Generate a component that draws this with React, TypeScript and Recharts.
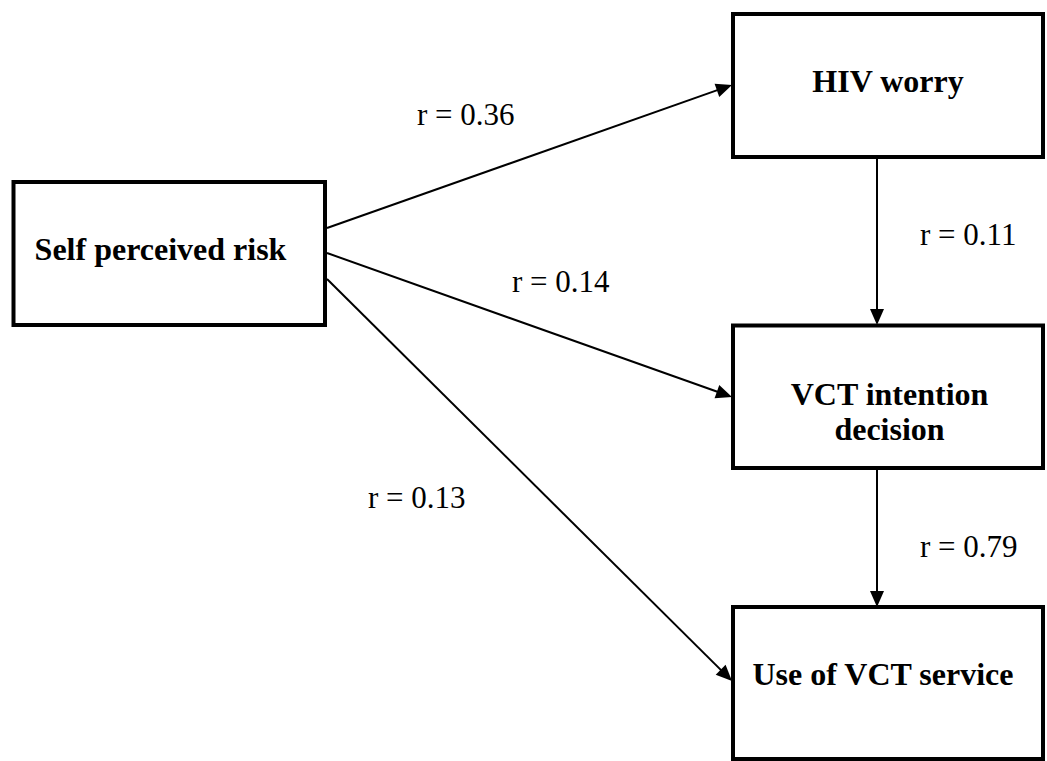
import React from 'react';
import { ComposedChart, XAxis, YAxis, ReferenceArea, ReferenceLine, ReferenceDot } from 'recharts';

const W = 1047;
const H = 761;

// Nodes (diagram coordinates)
const nodeLabels: string[][] = [['Self perceived risk'], ['HIV worry'], ['VCT intention', 'decision'], ['Use of VCT service']];
const nodeX1 = [13.5, 733, 733, 733];
const nodeX2 = [325, 1043, 1043, 1043];
const nodeY1 = [182, 14, 325.5, 607];
const nodeY2 = [325, 157, 468, 759];
const labelX = [160.5, 888, 889.5, 883];
const labelY = [260, 92, 405, 685];

// Edges (correlations)
const edgeR = ['0.36', '0.14', '0.13', '0.11', '0.79'];
const edgeFromX = [327, 327, 327, 877, 877];
const edgeFromY = [228, 253, 279, 157, 468];
const edgeToX = [732, 732, 732, 877, 877];
const edgeToY = [85, 397, 681, 325, 607];
const rLabelX = [417, 512, 368, 920, 920];
const rLabelY = [125, 292, 508, 245, 557];

const FONT = '"Liberation Serif", "Times New Roman", Times, serif';

const makeBox = (i: number) => (p: any) => {
  const sx = p.width / (nodeX2[i] - nodeX1[i]);
  const sy = p.height / (nodeY2[i] - nodeY1[i]);
  const tx = p.x + (labelX[i] - nodeX1[i]) * sx;
  const ty = p.y + (labelY[i] - nodeY1[i]) * sy;
  return (
    <g>
      <rect x={p.x} y={p.y} width={p.width} height={p.height} fill="#fff" stroke="#000" strokeWidth={4} />
      <text x={tx} y={ty} textAnchor="middle" fontFamily={FONT} fontWeight="bold" fontSize={32} fill="#000">
        {nodeLabels[i].map((t, k) => (
          <tspan key={k} x={tx} dy={k === 0 ? 0 : 35}>{t}</tspan>
        ))}
      </text>
    </g>
  );
};

const Arrow = (p: any) => {
  const { x1, y1, x2, y2 } = p;
  const dx = x2 - x1;
  const dy = y2 - y1;
  const len = Math.hypot(dx, dy) || 1;
  const ux = dx / len;
  const uy = dy / len;
  const L = 16;
  const Wd = 7;
  const bx = x2 - ux * L;
  const by = y2 - uy * L;
  const pts = `${x2},${y2} ${bx - uy * Wd},${by + ux * Wd} ${bx + uy * Wd},${by - ux * Wd}`;
  return (
    <g>
      <line x1={x1} y1={y1} x2={bx + ux * 2} y2={by + uy * 2} stroke="#000" strokeWidth={2} />
      <polygon points={pts} fill="#000" />
    </g>
  );
};

const makeRLabel = (i: number) => (p: any) => (
  <text x={p.cx} y={p.cy} textAnchor="start" fontFamily={FONT} fontSize={31} fill="#000">
    {`r = ${edgeR[i]}`}
  </text>
);

export default function App() {
  return (
    <div style={{ position: 'absolute', left: 0, top: 0, width: W, height: H, background: '#fff' }}>
      <ComposedChart width={W} height={H} data={[]} margin={{ top: 0, right: 0, bottom: 0, left: 0 }}>
        <XAxis type="number" dataKey="x" domain={[0, W]} hide allowDataOverflow />
        <YAxis type="number" dataKey="y" domain={[0, H]} reversed hide allowDataOverflow />
        {nodeLabels.map((_, i) => (
          <ReferenceArea
            key={`n${i}`}
            x1={nodeX1[i]}
            x2={nodeX2[i]}
            y1={nodeY1[i]}
            y2={nodeY2[i]}
            ifOverflow="visible"
            shape={makeBox(i)}
          />
        ))}
        {edgeR.map((_, i) => (
          <ReferenceLine
            key={`e${i}`}
            segment={[{ x: edgeFromX[i], y: edgeFromY[i] }, { x: edgeToX[i], y: edgeToY[i] }]}
            ifOverflow="visible"
            shape={Arrow}
          />
        ))}
        {edgeR.map((_, i) => (
          <ReferenceDot
            key={`r${i}`}
            x={rLabelX[i]}
            y={rLabelY[i]}
            r={0}
            ifOverflow="visible"
            shape={makeRLabel(i)}
          />
        ))}
      </ComposedChart>
    </div>
  );
}
